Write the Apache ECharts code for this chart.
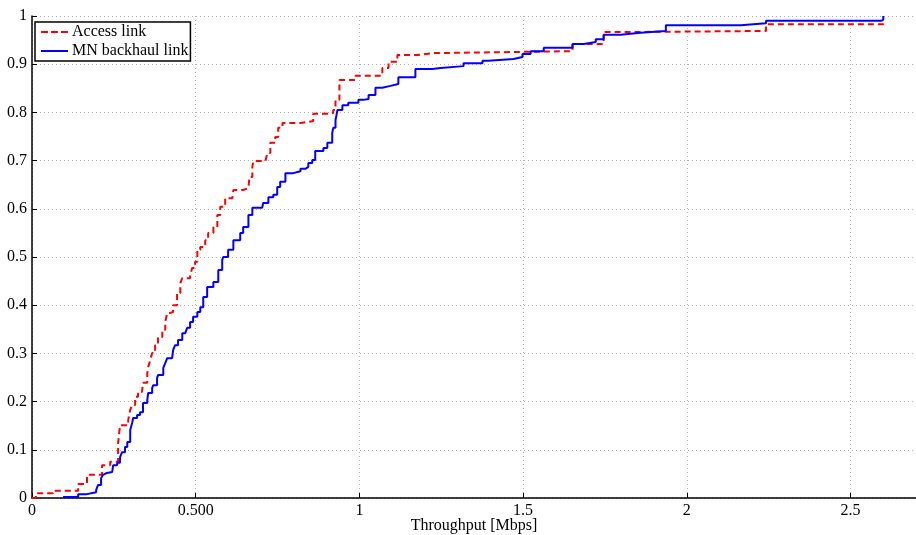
<!DOCTYPE html>
<html>
<head>
<meta charset="utf-8">
<script src="https://cdn.jsdelivr.net/npm/echarts@6/dist/echarts.min.js"></script>
<style>
  html, body { margin: 0; padding: 0; background: #fff; }
  #chart { width: 916px; height: 535px; }
</style>
</head>
<body>
<div id="chart"></div>
<script>
// ---- data (CDF staircases, jump points) ----
const seriesNames = ['Access link', 'MN backhaul link'];

const accessLink = [
  [0, 0], [0.012, 0.010], [0.064, 0.015], [0.141, 0.029], [0.168, 0.048],
  [0.214, 0.068], [0.239, 0.075], [0.263, 0.114], [0.269, 0.151], [0.294, 0.162],
  [0.300, 0.183], [0.306, 0.193], [0.315, 0.210], [0.324, 0.220], [0.336, 0.224],
  [0.339, 0.239], [0.352, 0.259], [0.355, 0.272], [0.361, 0.286], [0.367, 0.301],
  [0.376, 0.317], [0.385, 0.334], [0.398, 0.349], [0.407, 0.365], [0.413, 0.384],
  [0.422, 0.386], [0.431, 0.400], [0.443, 0.425], [0.453, 0.446], [0.459, 0.456],
  [0.483, 0.461], [0.489, 0.477], [0.498, 0.490], [0.505, 0.515], [0.514, 0.521],
  [0.529, 0.535], [0.538, 0.550], [0.554, 0.562], [0.566, 0.587], [0.575, 0.604],
  [0.590, 0.622], [0.612, 0.624], [0.615, 0.639], [0.645, 0.643], [0.661, 0.645],
  [0.664, 0.666], [0.673, 0.687], [0.676, 0.699], [0.713, 0.703], [0.719, 0.716],
  [0.728, 0.737], [0.743, 0.749], [0.752, 0.768], [0.765, 0.778], [0.820, 0.782],
  [0.859, 0.797], [0.911, 0.799], [0.920, 0.805], [0.927, 0.826], [0.939, 0.867],
  [0.988, 0.876], [1.070, 0.892], [1.089, 0.905], [1.116, 0.919], [1.177, 0.923],
  [1.226, 0.927], [1.651, 0.942], [1.746, 0.967], [1.875, 0.969], [2.242, 0.983],
  [2.600, 0.985]
];

const mnBackhaul = [
  [0.095, 0.002], [0.141, 0.008], [0.168, 0.012], [0.196, 0.017], [0.202, 0.027],
  [0.211, 0.041], [0.217, 0.048], [0.223, 0.052], [0.229, 0.054], [0.245, 0.058],
  [0.248, 0.068], [0.260, 0.073], [0.269, 0.085], [0.275, 0.095], [0.284, 0.106],
  [0.291, 0.116], [0.300, 0.141], [0.306, 0.156], [0.309, 0.166], [0.321, 0.172],
  [0.330, 0.178], [0.339, 0.197], [0.352, 0.203], [0.355, 0.218], [0.367, 0.228],
  [0.370, 0.234], [0.382, 0.249], [0.385, 0.255], [0.401, 0.270], [0.407, 0.280],
  [0.413, 0.290], [0.428, 0.293], [0.431, 0.307], [0.437, 0.317], [0.446, 0.328],
  [0.459, 0.342], [0.468, 0.344], [0.474, 0.353], [0.483, 0.365], [0.492, 0.376],
  [0.505, 0.386], [0.514, 0.396], [0.523, 0.417], [0.535, 0.438], [0.554, 0.448],
  [0.569, 0.473], [0.581, 0.494], [0.584, 0.500], [0.599, 0.515], [0.615, 0.535],
  [0.636, 0.550], [0.645, 0.562], [0.661, 0.587], [0.673, 0.602], [0.703, 0.606],
  [0.706, 0.612], [0.722, 0.624], [0.737, 0.629], [0.749, 0.645], [0.758, 0.656],
  [0.774, 0.674], [0.798, 0.678], [0.820, 0.683], [0.835, 0.687], [0.844, 0.695],
  [0.856, 0.701], [0.865, 0.720], [0.890, 0.726], [0.902, 0.737], [0.917, 0.757],
  [0.920, 0.768], [0.927, 0.784], [0.933, 0.805], [0.948, 0.815], [0.966, 0.820],
  [0.997, 0.826], [1.012, 0.828], [1.028, 0.836], [1.049, 0.851], [1.070, 0.855],
  [1.095, 0.859], [1.119, 0.873], [1.171, 0.890], [1.223, 0.892], [1.248, 0.896],
  [1.318, 0.902], [1.376, 0.907], [1.394, 0.911], [1.471, 0.915], [1.498, 0.921],
  [1.523, 0.927], [1.563, 0.934], [1.651, 0.942], [1.685, 0.946], [1.722, 0.952],
  [1.746, 0.961], [1.798, 0.965], [1.859, 0.969], [1.936, 0.981], [2.165, 0.985],
  [2.242, 0.990], [2.593, 0.992], [2.600, 1.000]
];

const xTicks = [0, 0.5, 1, 1.5, 2, 2.5];
const xTickLabels = ['0', '0.500', '1', '1.5', '2', '2.5'];
const yTickLabels = ['0', '0.1', '0.2', '0.3', '0.4', '0.5', '0.6', '0.7', '0.8', '0.9', '1'];

// ---- chart ----
const font = 'Liberation Serif';
const gridLine = { show: true, lineStyle: { color: '#b0b0b0', type: [1, 3], width: 1 } };

// legend samples: a dashed and a solid stroke
const dashIcon = 'path://M0,0h7v2h-7z M10,0h7v2h-7z M20,0h7v2h-7z';
const solidIcon = 'path://M0,0h27v2h-27z';

const chart = echarts.init(document.getElementById('chart'));
chart.setOption({
  animation: false,
  textStyle: { fontFamily: font },
  grid: { left: 32, right: 0, top: 16, bottom: 37, containLabel: false, outerBoundsMode: 'none' },
  legend: {
    orient: 'vertical',
    left: 35, top: 22,
    data: [
      { name: seriesNames[0], icon: dashIcon },
      { name: seriesNames[1], icon: solidIcon }
    ],
    backgroundColor: '#fff',
    borderColor: '#000', borderWidth: 1.5, borderRadius: 0,
    padding: [1, 2, 1, 6],
    itemGap: 1,
    itemWidth: 27, itemHeight: 2,
    textStyle: { fontFamily: font, fontSize: 16, color: '#000', lineHeight: 18, padding: [0, 0, 0, -1] }
  },
  xAxis: {
    type: 'value', min: 0, max: 2.7, interval: 0.5,
    name: 'Throughput [Mbps]', nameLocation: 'middle', nameGap: 20,
    nameMoveOverlap: false,
    nameTextStyle: { fontFamily: font, fontSize: 16, color: '#000', verticalAlign: 'top' },
    axisLine: { show: true, onZero: false, lineStyle: { color: '#000', width: 1.5 } },
    axisTick: { show: true, inside: true, length: 5, lineStyle: { color: '#000' } },
    axisLabel: {
      fontFamily: font, fontSize: 16, color: '#000', margin: 5,
      showMaxLabel: false,
      formatter: v => {
        const i = xTicks.findIndex(t => Math.abs(t - v) < 1e-6);
        return i >= 0 ? xTickLabels[i] : '';
      }
    },
    splitLine: gridLine
  },
  yAxis: {
    type: 'value', min: 0, max: 1, interval: 0.1,
    axisLine: { show: true, onZero: false, lineStyle: { color: '#000', width: 1.5 } },
    axisTick: { show: true, inside: true, length: 5, lineStyle: { color: '#000' } },
    axisLabel: {
      fontFamily: font, fontSize: 16, color: '#000', margin: 5,
      formatter: (v) => yTickLabels[Math.round(v * 10)]
    },
    splitLine: gridLine
  },
  series: [
    {
      name: seriesNames[0], type: 'line', step: 'end', data: accessLink,
      symbol: 'none', z: 2,
      lineStyle: { color: '#ff0000', width: 2, type: [6, 4] },
      itemStyle: { color: '#ff0000' }
    },
    {
      name: seriesNames[1], type: 'line', step: 'end', data: mnBackhaul,
      symbol: 'none', z: 3,
      lineStyle: { color: '#0000ff', width: 2, type: 'solid' },
      itemStyle: { color: '#0000ff' }
    }
  ]
});
</script>
</body>
</html>
